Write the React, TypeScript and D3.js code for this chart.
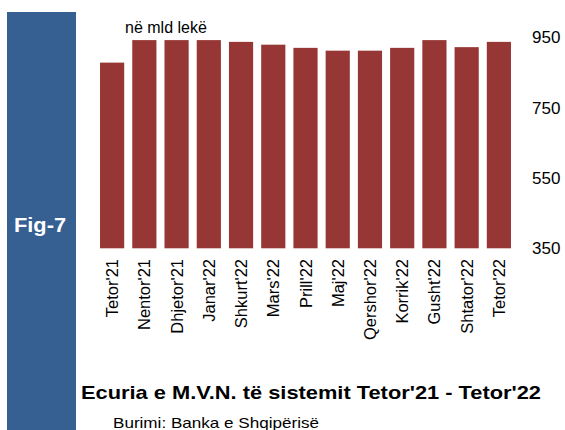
import React from 'react'
import * as d3 from 'd3'

// mjete te vlefshme neto (mld leke), lexuar nga grafiku
const months = ["Tetor'21", "Nentor'21", "Dhjetor'21", "Janar'22", "Shkurt'22", "Mars'22", "Prill'22",
  "Maj'22", "Qershor'22", "Korrik'22", "Gusht'22", "Shtator'22", "Tetor'22"]
const values = [878, 942, 942, 942, 937, 929, 920, 912, 912, 920, 942, 922, 937]
const ticks = [350, 550, 750, 950]

const W = 565
const H = 430
const barColor = '#963735'
const blue = '#376092'
const font = '"Liberation Sans", Arial, sans-serif'

export default function App() {
  const x = d3.scaleBand<string>()
    .domain(months)
    .range([96, 515])
    .paddingInner(0.25)
    .paddingOuter(0.125)

  const y = d3.scaleLinear().domain([350, 950]).range([248.3, 37.3])

  return (
    <svg width={W} height={H} style={{ position: 'absolute', left: 0, top: 0 }} fontFamily={font}>
      <rect x={0} y={0} width={W} height={H} fill="#fff" />

      {/* band on the left */}
      <rect x={7} y={12} width={69} height={H - 12} fill={blue} />
      <text x={40} y={232} fill="#fff" fontSize={21} fontWeight="bold" textAnchor="middle"
        textLength={52} lengthAdjust="spacingAndGlyphs">Fig-7</text>

      {months.map((m, i) => (
        <rect key={m} x={x(m)} y={y(values[i])} width={x.bandwidth()}
          height={y(350) - y(values[i])} fill={barColor} />
      ))}

      {months.map(m => {
        const cx = (x(m) as number) + x.bandwidth() / 2
        return (
          <text key={'l' + m} transform={`translate(${cx + 6},259) rotate(-90)`}
            textAnchor="end" fontSize={16.5} fill="#000">{m}</text>
        )
      })}

      {ticks.map(t => (
        <text key={t} x={532} y={y(t)} dy="0.35em" fontSize={17} fill="#000">{t}</text>
      ))}

      <text x={125} y={33} fontSize={16} fill="#000">në mld lekë</text>

      <text x={81} y={399} fontSize={19} fontWeight="bold" fill="#000"
        fontFamily='"Liberation Sans Narrow", "Liberation Sans", Arial, sans-serif'
        textLength={460} lengthAdjust="spacingAndGlyphs">Ecuria e M.V.N. të sistemit Tetor'21 - Tetor'22</text>
      <text x={113} y={428} fontSize={15} fill="#000"
        fontFamily='"Liberation Sans Narrow", "Liberation Sans", Arial, sans-serif'
        textLength={206} lengthAdjust="spacingAndGlyphs">Burimi: Banka e Shqipërisë</text>
    </svg>
  )
}
